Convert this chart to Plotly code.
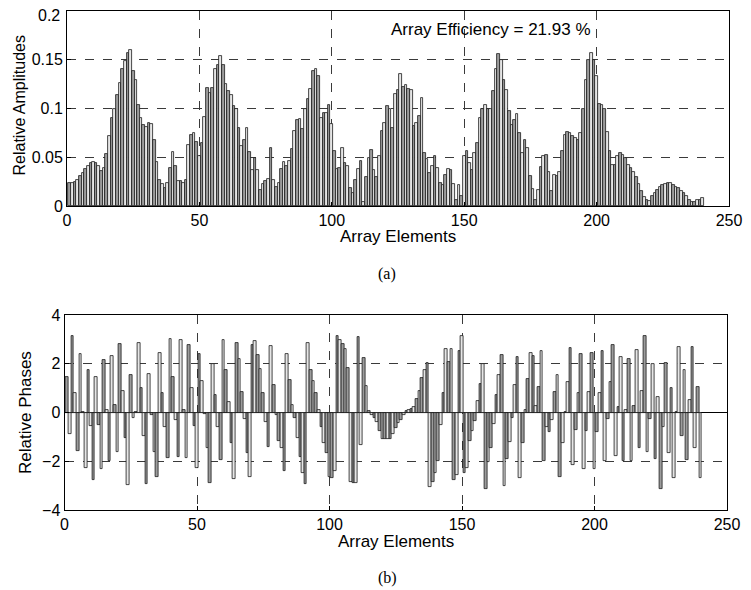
import plotly.graph_objects as go

# ---------------- data ----------------
elements = list(range(1, 241))

amplitudes = [
    0.024, 0.024, 0.025, 0.027, 0.031, 0.034, 0.038, 0.041, 0.044, 0.045,
    0.044, 0.041, 0.036, 0.039, 0.053, 0.072, 0.090, 0.100, 0.114, 0.126,
    0.141, 0.149, 0.157, 0.160, 0.138, 0.129, 0.104, 0.090, 0.083, 0.081,
    0.085, 0.084, 0.068, 0.045, 0.027, 0.023, 0.018, 0.024, 0.039, 0.055,
    0.041, 0.026, 0.026, 0.024, 0.027, 0.063, 0.073, 0.075, 0.066, 0.051,
    0.065, 0.091, 0.121, 0.116, 0.121, 0.141, 0.145, 0.154, 0.145, 0.125,
    0.118, 0.114, 0.103, 0.099, 0.080, 0.062, 0.068, 0.080, 0.055, 0.037,
    0.049, 0.037, 0.016, 0.023, 0.026, 0.028, 0.059, 0.027, 0.019, 0.024,
    0.038, 0.045, 0.041, 0.046, 0.058, 0.077, 0.088, 0.089, 0.079, 0.100,
    0.110, 0.120, 0.138, 0.141, 0.133, 0.090, 0.095, 0.095, 0.104, 0.084,
    0.056, 0.038, 0.039, 0.060, 0.044, 0.041, 0.018, 0.013, 0.027, 0.038,
    0.046, 0.004, 0.030, 0.049, 0.057, 0.037, 0.030, 0.051, 0.077, 0.085,
    0.103, 0.099, 0.080, 0.115, 0.119, 0.135, 0.122, 0.124, 0.120, 0.119,
    0.082, 0.085, 0.092, 0.111, 0.054, 0.048, 0.034, 0.041, 0.051, 0.039,
    0.024, 0.022, 0.032, 0.038, 0.037, 0.023, 0.006, 0.022, 0.010, 0.051,
    0.056, 0.044, 0.037, 0.054, 0.065, 0.090, 0.100, 0.104, 0.099, 0.100,
    0.118, 0.141, 0.156, 0.150, 0.129, 0.119, 0.097, 0.083, 0.088, 0.094,
    0.075, 0.054, 0.068, 0.059, 0.031, 0.017, 0.006, 0.016, 0.040, 0.051,
    0.052, 0.035, 0.015, 0.032, 0.031, 0.035, 0.056, 0.073, 0.076, 0.075,
    0.072, 0.070, 0.068, 0.075, 0.099, 0.129, 0.150, 0.157, 0.150, 0.133,
    0.105, 0.104, 0.099, 0.076, 0.056, 0.042, 0.042, 0.051, 0.054, 0.052,
    0.049, 0.042, 0.039, 0.035, 0.030, 0.023, 0.015, 0.009, 0.006, 0.005,
    0.010, 0.013, 0.016, 0.020, 0.022, 0.023, 0.024, 0.024, 0.022, 0.020,
    0.018, 0.015, 0.013, 0.010, 0.006, 0.004, 0.004, 0.006, 0.006, 0.008,
]

phases = [
    1.44, -0.89, 3.12, 0.79, -1.58, 2.40, 0.04, -2.29, 1.75, -0.55,
    -2.78, 1.45, -0.51, -2.32, 2.14, 0.11, -2.01, 2.30, 0.32, -1.60,
    2.81, 0.89, -1.05, -2.97, 1.55, -0.21, 0.02, 2.84, 1.00, -0.96,
    -2.92, 1.58, -0.12, -1.60, -2.66, 2.45, 0.79, -0.58, -1.85, 3.03,
    1.47, -0.30, -1.81, 2.97, 0.11, -1.85, 2.78, 1.00, -0.55, -2.26,
    2.40, 1.30, -0.07, -1.44, -2.90, 1.99, 0.73, -0.60, -1.95, 2.99,
    1.75, 0.42, -1.26, -2.73, 2.85, 2.21, 0.84, -0.27, -1.67, -2.63,
    2.75, 2.92, 2.37, 1.78, 0.79, -0.37, -1.40, 2.71, 1.14, -0.12,
    -1.16, -1.47, -2.38, 2.40, 1.32, 0.29, -0.21, -1.05, -1.81, -2.49,
    -2.93, 2.85, 1.75, 1.30, 0.79, 0.11, -0.58, -1.26, -1.67, -2.63,
    -2.68, -2.42, 3.15, 2.99, 2.81, 2.60, 1.82, -2.85, -2.90, -2.90,
    3.10, -1.33, 2.23, 1.07, 0.05, -0.10, -0.23, -0.37, -0.75, -1.10,
    -1.10, -1.10, -1.10, -0.90, -0.64, -0.44, -0.30, -0.10, 0.05, 0.11,
    0.15, 0.23, 0.56, 0.90, 1.41, 1.73, 2.03, -3.04, -2.84, -2.49,
    -2.01, -0.51, 0.79, 2.60, 2.07, 2.60, -2.77, -2.56, 2.53, 3.15,
    -2.49, -2.26, -1.16, -0.75, -0.34, 0.48, 1.16, 1.99, -3.15, -2.04,
    -1.47, -0.48, 0.70, 1.55, 2.37, -3.00, -1.92, -1.19, -0.21, 1.11,
    2.26, -2.67, -1.26, 0.10, 1.37, 2.45, 2.33, 0.25, 1.04, 2.51,
    -2.01, -0.58, -0.81, -0.30, 0.86, 1.52, -2.63, -1.26, 0.02, 1.25,
    2.64, -2.15, -0.71, 0.79, 2.40, -2.32, -0.75, 0.86, 2.44, -2.32,
    -0.81, 0.79, 2.51, -2.01, -0.26, 1.27, 2.75, -1.78, 0.21, 2.26,
    -1.99, 0.11, 2.19, -1.99, 0.27, 2.55, -1.44, 0.90, 3.12, -1.60,
    -0.26, 1.99, -1.92, 0.62, -3.15, -0.58, 2.03, -1.67, 1.00, -2.67,
    0.04, 2.68, -0.95, 1.75, -1.95, 0.52, 2.68, -1.47, 1.04, -2.67,
]

x_ticks = [0, 50, 100, 150, 200, 250]
amp_ticks = [0, 0.05, 0.1, 0.15, 0.2]
amp_tick_labels = ["0", "0.05", "0.1", "0.15", "0.2"]
phase_ticks = [-4, -2, 0, 2, 4]
phase_tick_labels = ["\u22124", "\u22122", "0", "2", "4"]

efficiency_text = "Array Efficiency = 21.93 %"
x_title = "Array Elements"
amp_title = "Relative Amplitudes"
phase_title = "Relative Phases"
caption_a = "(a)"
caption_b = "(b)"

# ---------------- styling ----------------
# The page body has an 8px default margin, so the figure is drawn 8px
# in from the top-left corner; the figure size compensates for that.
OFF = 8
W, H = 751 - OFF, 590 - OFF
FONT = "Liberation Sans, Arial, sans-serif"
SERIF = "Liberation Serif, Times New Roman, serif"
fills = ["#9c9c9c" if i % 2 == 0 else "#e6e6e6" for i in range(len(elements))]

fig = go.Figure()
fig.add_trace(go.Bar(x=elements, y=amplitudes, xaxis="x", yaxis="y",
                     marker=dict(color=fills, line=dict(color="#1a1a1a", width=0.8)),
                     width=1.0, showlegend=False))
fig.add_trace(go.Bar(x=elements, y=phases, xaxis="x2", yaxis="y2",
                     marker=dict(color=fills, line=dict(color="#1a1a1a", width=0.8)),
                     width=1.0, showlegend=False))

def px_x(p):
    return (p - OFF) / W

def px_y(p):
    return 1 - (p - OFF) / H

tick_font = dict(family=FONT, size=16, color="black")
axis_common = dict(
    showline=True, linecolor="black", linewidth=1, mirror=True,
    ticks="inside", ticklen=4, tickcolor="black", automargin=False,
    showgrid=True, gridcolor="#3a3a3a", gridwidth=1, griddash="dash",
    tickfont=tick_font,
)

# the topmost amplitude label sits at the very top edge of the figure, so it
# is drawn as a text a little lower instead of as an axis label
amp_axis_text = amp_tick_labels[:-1] + [""]

fig.update_layout(
    width=W, height=H,
    margin=dict(l=0, r=0, t=0, b=0),
    paper_bgcolor="white", plot_bgcolor="white",
    bargap=0,
    font=dict(family=FONT, color="black"),
    xaxis=dict(domain=[px_x(67), px_x(729)], range=[0, 250], anchor="y",
               tickvals=x_ticks, zeroline=False, **axis_common),
    yaxis=dict(domain=[px_y(206), px_y(11)], range=[0, 0.2], anchor="x",
               tickvals=amp_ticks, ticktext=amp_axis_text,
               zeroline=False, **axis_common),
    xaxis2=dict(domain=[px_x(64.5), px_x(727)], range=[0, 250], anchor="y2",
                tickvals=x_ticks, zeroline=False, **axis_common),
    yaxis2=dict(domain=[px_y(510), px_y(315)], range=[-4, 4], anchor="x2",
                tickvals=phase_ticks, ticktext=phase_tick_labels,
                zeroline=True, zerolinecolor="black", zerolinewidth=1,
                **axis_common),
)

title_font = dict(family=FONT, size=17, color="black")
ann = dict(showarrow=False, xanchor="center", yanchor="middle")
fig.add_annotation(x=px_x(62), y=px_y(16), xref="paper", yref="paper",
                   text=amp_tick_labels[-1], font=tick_font,
                   showarrow=False, xanchor="right", yanchor="middle")
fig.add_annotation(x=160, y=0.1815, xref="x", yref="y", text=efficiency_text,
                   font=title_font, **ann)
# axis titles
fig.add_annotation(x=px_x(398), y=px_y(237), xref="paper", yref="paper", text=x_title,
                   font=title_font, **ann)
fig.add_annotation(x=px_x(396), y=px_y(541), xref="paper", yref="paper", text=x_title,
                   font=title_font, **ann)
fig.add_annotation(x=px_x(19.5), y=px_y(105), xref="paper", yref="paper", text=amp_title,
                   textangle=-90, font=dict(family=FONT, size=16, color="black"), **ann)
fig.add_annotation(x=px_x(25), y=px_y(413), xref="paper", yref="paper", text=phase_title,
                   textangle=-90, font=title_font, **ann)
# captions
fig.add_annotation(x=px_x(387), y=px_y(274), xref="paper", yref="paper", text=caption_a,
                   font=dict(family=SERIF, size=16, color="black"), **ann)
fig.add_annotation(x=px_x(387), y=px_y(578), xref="paper", yref="paper", text=caption_b,
                   font=dict(family=SERIF, size=16, color="black"), **ann)

fig.write_html("out.html")
